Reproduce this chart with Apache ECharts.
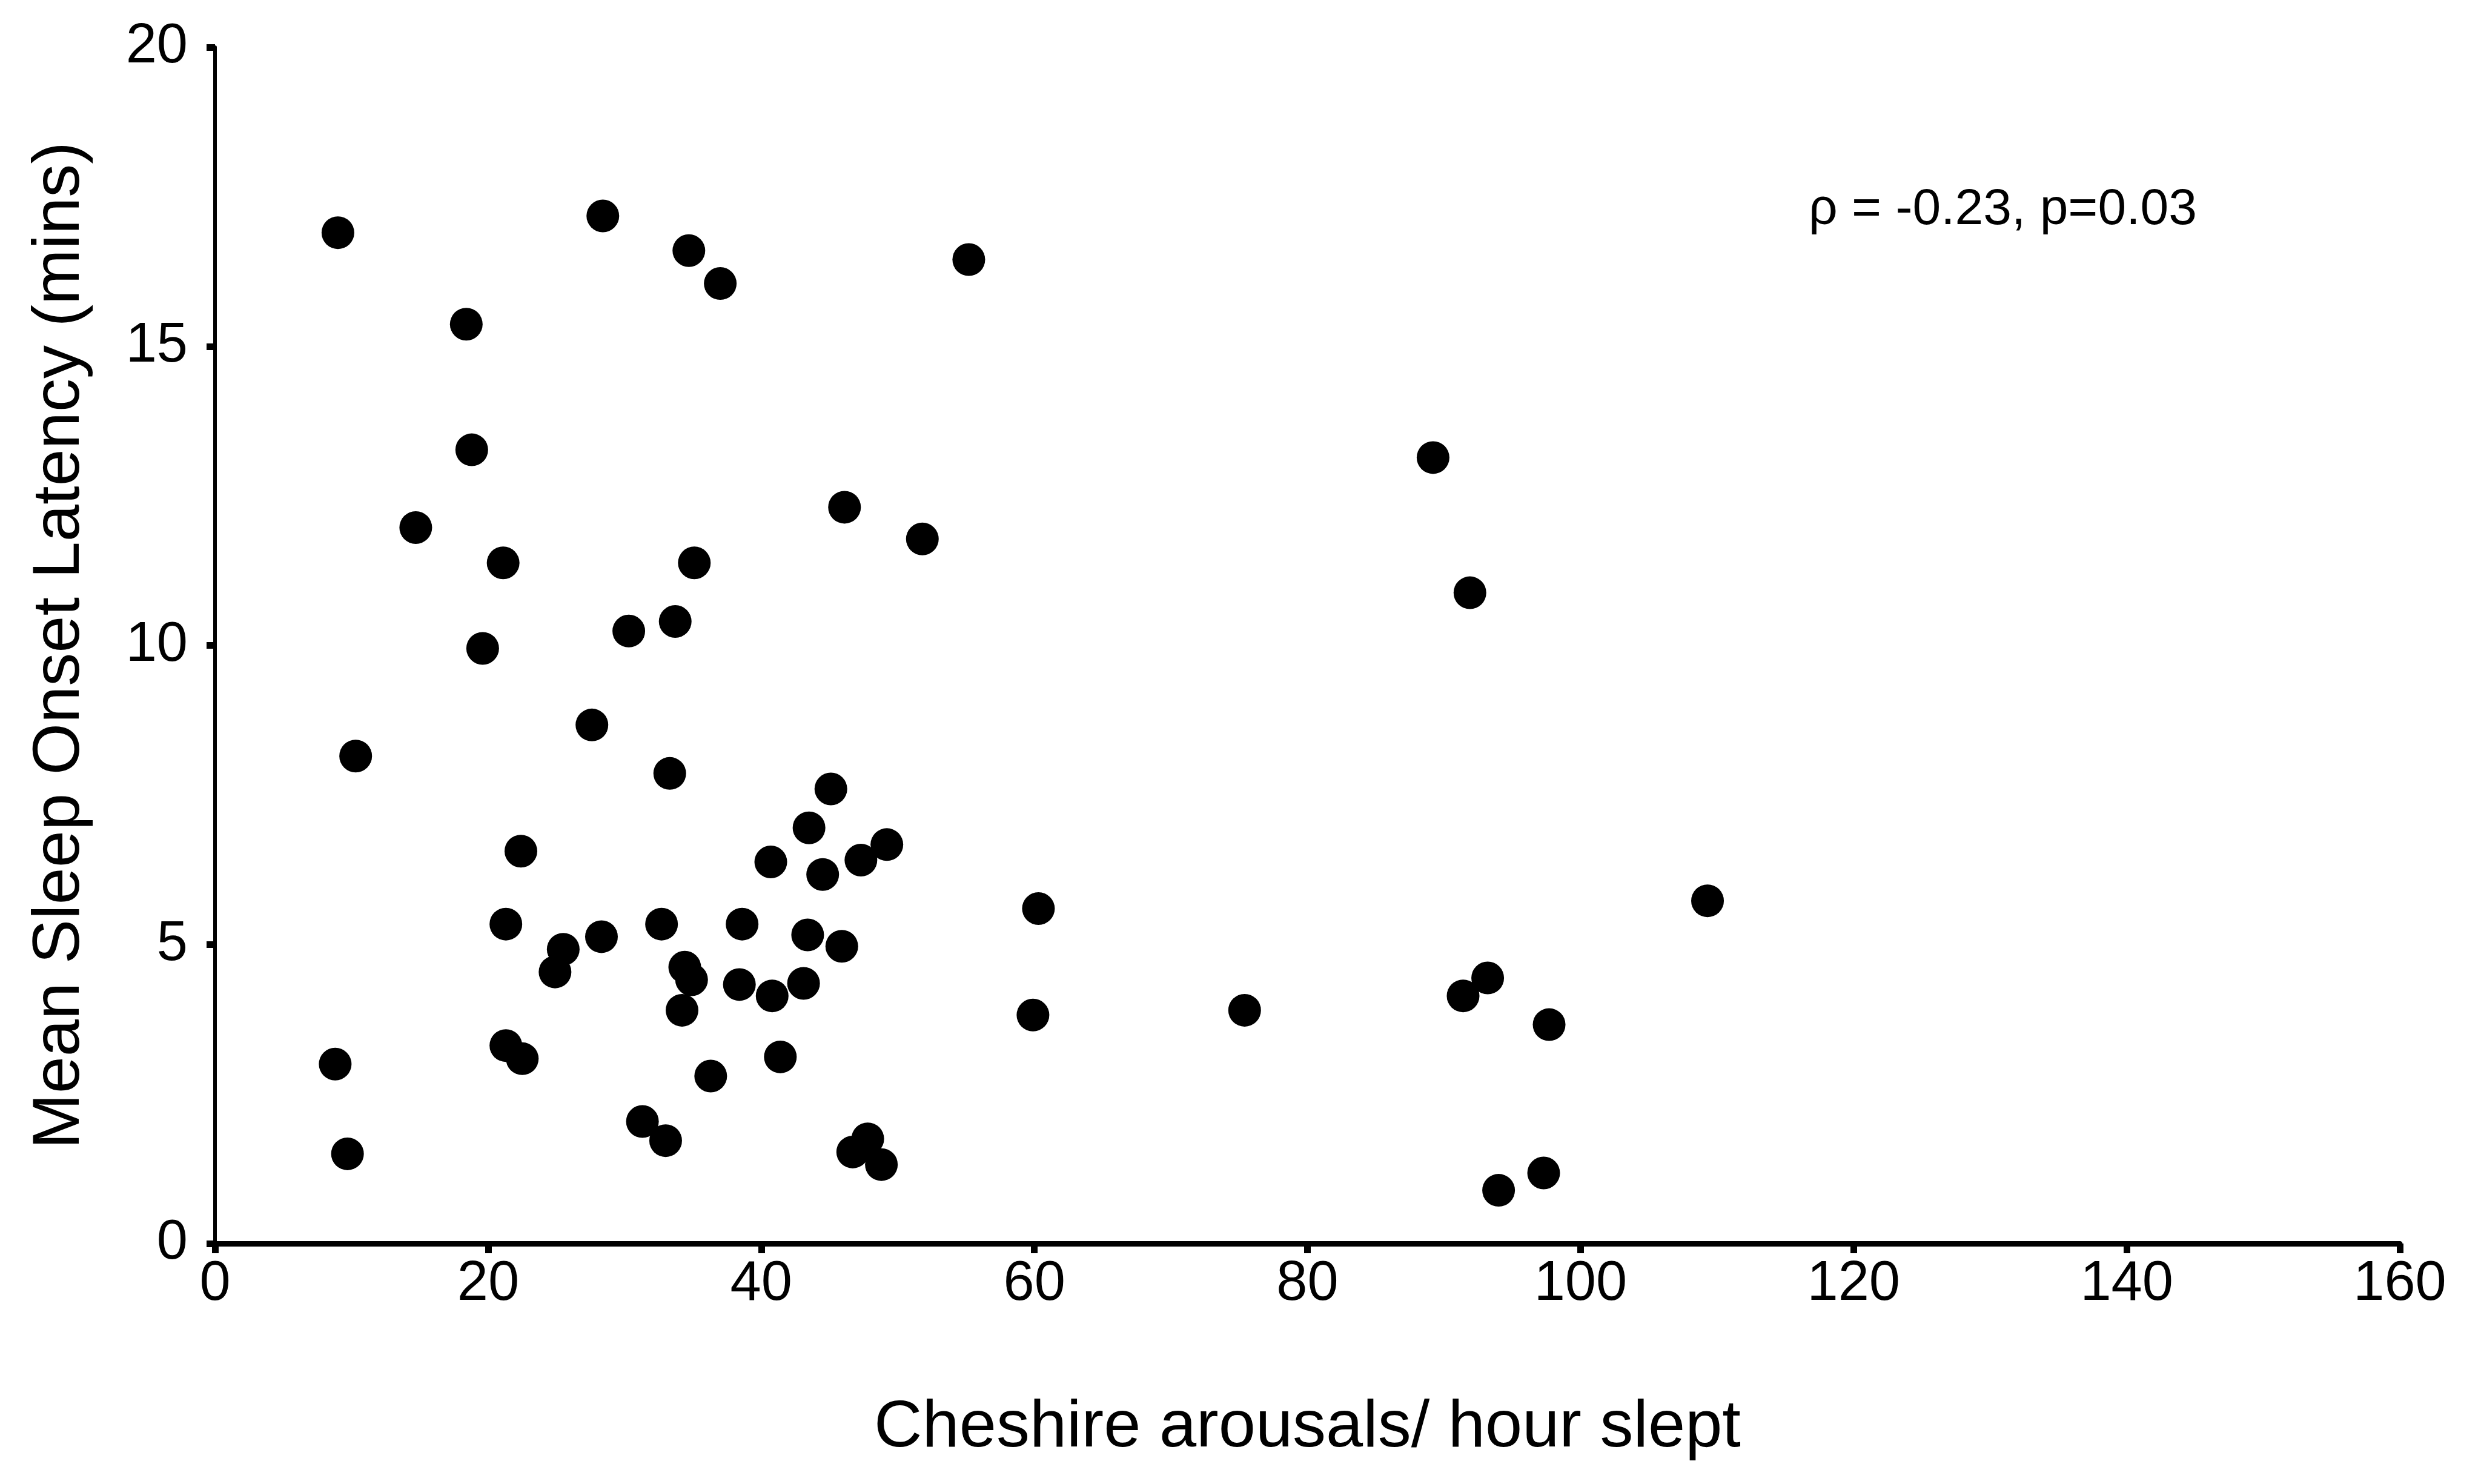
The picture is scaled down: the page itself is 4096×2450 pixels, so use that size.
<!DOCTYPE html>
<html>
<head>
<meta charset="utf-8">
<script src="https://cdn.jsdelivr.net/npm/echarts@6/dist/echarts.min.js"></script>
<style>
html,body{margin:0;padding:0;background:#fff;}
#chart{width:4096px;height:2450px;}
</style>
</head>
<body>
<div id="chart"></div>
<script>
// Cheshire arousals per hour slept (x)
var arousals = [9.0, 10.3, 8.8, 9.7, 14.7, 18.4, 18.8, 21.1, 19.6, 22.4, 21.3, 21.3, 22.5, 25.5, 24.9,
  28.4, 27.6, 28.3, 30.3, 33.7, 34.7, 37.0, 35.1, 33.3, 32.7, 34.4, 34.9, 34.2, 31.3, 33.0, 36.3,
  38.6, 38.4, 40.7, 40.8, 41.4, 43.5, 43.4, 43.1, 44.5, 45.1, 45.9, 46.1, 47.3, 49.2, 46.7, 47.8,
  48.8, 51.8, 55.2, 60.3, 59.9, 75.4, 89.2, 91.9, 91.4, 93.2, 94.0, 97.3, 97.7, 109.3];
// Mean sleep onset latency in minutes (y)
var latency = [16.9, 8.15, 3.0, 1.5, 11.97, 15.37, 13.27, 11.38, 9.95, 6.56, 5.34, 3.31, 3.09, 4.92, 4.54,
  17.18, 8.67, 5.13, 10.24, 10.40, 16.6, 16.05, 11.38, 7.86, 5.34, 4.62, 4.41, 3.90, 2.04, 1.72, 2.80,
  5.34, 4.33, 6.38, 4.14, 3.12, 6.95, 5.16, 4.35, 6.17, 7.60, 4.97, 12.31, 6.41, 6.67, 1.53, 1.75,
  1.32, 11.78, 16.45, 5.60, 3.82, 3.90, 13.14, 10.88, 4.14, 4.44, 0.89, 1.18, 3.66, 5.73];
var xTicks = [0, 20, 40, 60, 80, 100, 120, 140, 160];
var yTicks = [0, 5, 10, 15, 20];
var xTitle = 'Cheshire arousals/ hour slept';
var yTitle = 'Mean Sleep Onset Latency (mins)';
var note = 'ρ = -0.23, p=0.03';

var points = arousals.map(function (x, i) { return [x, latency[i]]; });
var font = '"Liberation Sans", Arial, sans-serif';

var chart = echarts.init(document.getElementById('chart'), null, {renderer: 'canvas'});
chart.setOption({
  backgroundColor: '#ffffff',
  animation: false,
  grid: {left: 355, right: 134, top: 78, bottom: 397, containLabel: false},
  xAxis: {
    type: 'value',
    min: xTicks[0], max: xTicks[xTicks.length - 1], interval: 20,
    name: xTitle, nameLocation: 'middle', nameGap: 250,
    nameTextStyle: {fontFamily: font, fontSize: 110, color: '#000'},
    axisLine: {show: true, onZero: false, lineStyle: {color: '#000', width: 9}},
    axisTick: {show: true, inside: false, length: 16, lineStyle: {color: '#000', width: 11}},
    axisLabel: {show: true, margin: 22, fontFamily: font, fontSize: 92, color: '#000'},
    splitLine: {show: false}
  },
  yAxis: {
    type: 'value',
    min: yTicks[0], max: yTicks[yTicks.length - 1], interval: 5,
    name: yTitle, nameLocation: 'middle', nameGap: 200,
    nameTextStyle: {fontFamily: font, fontSize: 110, color: '#000'},
    axisLine: {show: true, onZero: false, lineStyle: {color: '#000', width: 6}},
    axisTick: {show: true, inside: false, length: 14, lineStyle: {color: '#000', width: 11}},
    axisLabel: {show: true, margin: 45, fontFamily: font, fontSize: 92, color: '#000'},
    splitLine: {show: false}
  },
  graphic: [{
    type: 'text', left: 2986, top: 305,
    style: {text: note, font: '84px ' + font, fill: '#000'}
  }],
  series: [{
    type: 'scatter',
    data: points,
    symbol: 'circle',
    symbolSize: 54,
    itemStyle: {color: '#000', opacity: 1},
    silent: true
  }]
});
</script>
</body>
</html>
